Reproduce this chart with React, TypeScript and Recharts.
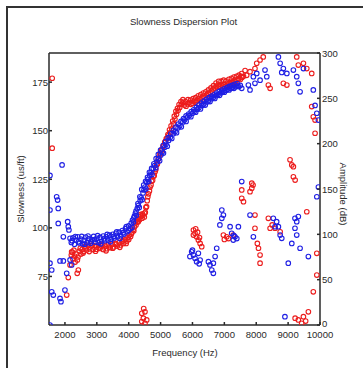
import { ReferenceLine, Scatter, ScatterChart, XAxis, YAxis } from "recharts";

// frequency (Hz), slowness (us/ft)
const blueCurve: [number, number][] = [
  [2200, 92.5], [2250, 94.8], [2300, 91.6], [2350, 93.6], [2400, 95.4], [2450, 92.2],
  [2500, 94.2], [2550, 91.8], [2600, 93.5], [2650, 95.3], [2700, 92.5], [2750, 94.4],
  [2800, 92.1], [2850, 93.9], [2900, 95.6], [2950, 92.7], [3000, 94.6], [3050, 92.4],
  [3100, 95.1], [3150, 93.1], [3200, 95.8], [3250, 93.4], [3300, 95.4], [3350, 93.8],
  [3400, 96.3], [3450, 94.2], [3500, 96.7], [3550, 94.8], [3600, 97.2], [3650, 95.4],
  [3700, 97.8], [3750, 96], [3800, 98.6], [3850, 96.8], [3900, 99.6], [3950, 98],
  [4000, 101], [4050, 99.6], [4080, 102.5], [4120, 104], [4150, 103], [4180, 106],
  [4210, 107.5], [4240, 106.5], [4270, 110], [4300, 111.5], [4330, 110.5], [4360, 114],
  [4390, 115.5], [4420, 114.5], [4450, 118], [4480, 119.5], [4510, 121], [4540, 120],
  [4570, 123.5], [4600, 125], [4630, 124], [4660, 127], [4700, 128.5], [4730, 127.5],
  [4770, 130.5], [4810, 132], [4850, 131], [4890, 134], [4930, 135.5], [4970, 134.5],
  [5010, 137.5], [5050, 139], [5090, 138.5], [5130, 141.5], [5170, 143], [5210, 142],
  [5250, 145], [5300, 146.5], [5350, 146], [5400, 148.5], [5450, 149.5], [5500, 149],
  [5550, 151.5], [5600, 152.5], [5650, 152], [5700, 154.5], [5750, 155.5], [5800, 154.8],
  [5850, 157], [5900, 157.8], [5950, 157.2], [6000, 159], [6050, 159.8], [6100, 159.5],
  [6150, 161], [6200, 161.8], [6250, 161.2], [6300, 163], [6350, 163.6], [6400, 163.2],
  [6450, 164.8], [6500, 165.4], [6550, 165], [6600, 166.5], [6650, 167], [6700, 166.6],
  [6750, 168], [6800, 168.6], [6850, 168.2], [6900, 169.5], [6950, 170], [7000, 169.8],
  [7050, 170.8], [7100, 171.3], [7150, 171], [7200, 171.8], [7250, 172.2], [7300, 171.8],
  [7350, 172.6], [7400, 173], [7450, 172.7], [7500, 173.3],
];

// second row of the thick blue band
const blueBand: [number, number][] = [
  [2225, 93.4], [2325, 95.5], [2425, 92.8], [2525, 95.6], [2625, 91.6], [2725, 95.8],
  [2825, 93], [2925, 94], [3025, 96], [3125, 91.8], [3225, 94.3], [3325, 96.6],
  [3425, 92.8], [3525, 95.5], [3625, 98], [3725, 94.5], [3825, 97.5], [3925, 100.6],
  [4000, 98.8], [4100, 100.2], [4160, 105.2], [4230, 108.6], [4290, 112.5], [4350, 116],
  [4410, 119.8], [4470, 122], [4530, 124], [4590, 126], [4650, 128.6], [4720, 130.6],
  [4790, 133], [4860, 135.6], [4930, 137.8], [5000, 140], [5080, 142.4], [5160, 144.4],
  [5240, 146.4], [5320, 148.4], [5400, 150.2], [5480, 151.8], [5560, 153.4], [5640, 154.8],
  [5720, 156.2], [5800, 157.6], [5880, 158.6], [5960, 159.8], [6040, 160.8], [6120, 162],
  [6200, 163.2], [6280, 164.2], [6360, 165.2], [6440, 166.2], [6520, 167], [6600, 167.8],
  [6680, 168.5], [6760, 169.4], [6840, 170.2], [6920, 170.9], [7000, 171.6], [7080, 172.2],
  [7160, 172.8], [7240, 173.3], [7320, 173.9], [7400, 174.3],
];

const redCurve: [number, number][] = [
  [2200, 86], [2250, 84], [2280, 88.5], [2320, 82.4], [2360, 86.5], [2410, 85],
  [2450, 88], [2500, 86.5], [2540, 89], [2590, 87.8], [2630, 90.5], [2680, 88.6],
  [2730, 91], [2780, 89.2], [2830, 90.6], [2880, 88.8], [2940, 90.8], [2990, 89],
  [3050, 91], [3100, 89.4], [3150, 90.5], [3200, 88.9], [3260, 90.6], [3310, 89.3],
  [3360, 91.2], [3420, 89.8], [3480, 91.5], [3530, 90.2], [3580, 92], [3640, 90.6],
  [3700, 92.4], [3750, 91.2], [3790, 93], [3840, 92], [3890, 94], [3940, 93.2],
  [3980, 95], [4020, 96.3], [4060, 95.5], [4100, 97.5], [4140, 99], [4180, 100.5],
  [4210, 102.5], [4240, 104], [4270, 103], [4300, 105], [4340, 104.2], [4380, 106],
  [4420, 105], [4450, 106.5], [4490, 105.6], [4520, 108], [4560, 111], [4600, 116],
  [4650, 119], [4700, 122], [4750, 124.5], [4800, 127], [4850, 130], [4900, 133],
  [4950, 136], [5000, 138.5], [5050, 140.5], [5100, 142.5], [5150, 144.5], [5200, 146],
  [5250, 147.5], [5300, 149], [5350, 151], [5400, 153.5], [5450, 156], [5500, 158.5],
  [5550, 160.5], [5600, 162], [5650, 163.5], [5700, 164.5], [5750, 163.2], [5800, 162.6],
  [5850, 163.8], [5900, 164.5], [5950, 163.6], [6000, 164.2], [6050, 165.2], [6100, 164.6],
  [6150, 165.5], [6200, 166.4], [6250, 165.8], [6300, 167], [6350, 167.8], [6400, 167.2],
  [6450, 168.5], [6500, 169.2], [6550, 169.5], [6600, 170.5], [6650, 171.5], [6700, 172],
  [6750, 172.8], [6800, 173.5], [6850, 172.8], [6900, 173.6], [6950, 172.9], [7000, 173.8],
  [7050, 173], [7100, 174], [7150, 174.6], [7200, 174], [7250, 175], [7300, 175.6],
  [7350, 175.2], [7400, 176.2], [7450, 176.8], [7500, 176.4], [7550, 177.4], [7600, 178],
];

// second row of the thick red band
const redBand: [number, number][] = [
  [2230, 87.5], [2300, 85.5], [2390, 83.5], [2480, 89.5], [2570, 87], [2660, 89.8],
  [2760, 87.8], [2860, 91.2], [2960, 88], [3070, 89.8], [3180, 91.4], [3290, 88.2],
  [3390, 90.2], [3500, 89.5], [3610, 91.6], [3720, 90], [3820, 93.4], [3920, 92],
  [4000, 94], [4080, 96.8], [4160, 98.5], [4230, 101.5], [4300, 103.2], [4360, 106.8],
  [4430, 107.2], [4500, 107.5], [4540, 110.5], [4580, 114], [4620, 117.5], [4670, 121],
  [4720, 124], [4780, 126.5], [4830, 129], [4880, 132.5], [4930, 135.5], [4980, 138],
  [5030, 140], [5080, 142], [5130, 144], [5180, 146], [5230, 148], [5280, 150.5],
  [5330, 152.5], [5380, 155], [5430, 157.5], [5480, 160], [5530, 161.5], [5580, 163.5],
  [5640, 165], [5700, 166], [5780, 165], [5860, 166], [5940, 165.8], [6020, 166.5],
  [6100, 167], [6180, 168], [6260, 168.6], [6340, 169.4], [6420, 170], [6500, 171],
  [6580, 172], [6660, 173.2], [6740, 174.5], [6820, 175.4], [6900, 175.5], [6980, 176],
  [7060, 175.6], [7140, 176.5], [7220, 177], [7300, 177.6], [7380, 178], [7460, 178.6],
  [7540, 179.4],
];

const blueScatter: [number, number][] = [
  [1530, 109.2], [1740, 116], [1770, 114.3], [1790, 110], [1790, 102.3], [1950, 95.4],
  [2085, 103.2], [2105, 100.6], [2125, 98.9], [2160, 94.6], [1530, 81.8], [1585, 78.3],
  [1845, 83], [1950, 83], [2055, 76.6], [2160, 83.5], [2210, 80.9], [1585, 67.1],
  [1635, 65.4], [1845, 63.7], [1875, 62], [2000, 68], [1530, 50], [1910, 132.4], [1530, 127],
  [5975, 87.7], [6030, 86], [6080, 84.3], [6185, 86.9], [6240, 83.4], [6130, 82.6],
  [5920, 85.2], [6000, 88.5], [6210, 81.5],
  [6760, 89.5], [6710, 85.2], [6655, 81.8], [6550, 80.9], [6605, 78.3], [6655, 76.6], [6500, 82.6],
  [6920, 109.2], [6970, 106.6], [6920, 104.9], [6860, 101.5],
  [7180, 100.6], [7230, 97.2], [7335, 95.4], [7280, 93.7], [7440, 100.6], [7390, 94.5], [7300, 96],
  [7805, 106.6], [7910, 95.4],
  [8535, 104.9], [8640, 103.2], [8695, 100.6], [8750, 96.3], [8800, 94.6], [8590, 100.6],
  [9215, 104.9], [9270, 103.2], [9215, 99.8], [9270, 96.3], [9320, 105.8], [9115, 92],
  [9005, 81.8], [9375, 89.5], [9635, 85.2], [9900, 116], [9950, 121], [8900, 54.3], [7545, 123.8],
  [7545, 171.8], [7753, 173.5], [7805, 171], [7910, 177.8], [8015, 179.5], [8120, 176],
  [8275, 181.2], [8330, 177.8], [7960, 174.4], [8695, 188], [8750, 184.7], [8850, 182],
  [8960, 179.5], [8800, 180], [9165, 181.2], [9270, 177.8], [9320, 174.4], [9375, 170],
  [9480, 182], [9790, 171], [9845, 163], [9900, 159], [9950, 155.5],
];

const redScatter: [number, number][] = [
  [1600, 177], [1600, 141], [2210, 87.7], [2160, 80.9], [2105, 74.4], [2055, 65.4],
  [2420, 78.3], [2385, 76.6],
  [4410, 56], [4510, 56.8], [4460, 53.5], [4565, 52.6], [4510, 50.9], [4410, 51.8], [4470, 58.5],
  [6030, 98.9], [6080, 97.2], [6130, 95.4], [6185, 93.7], [6240, 92], [6290, 90.3],
  [6030, 96.3], [6100, 99.5], [6160, 97.8], [6220, 95],
  [6970, 96.3], [7075, 95.4], [7280, 96.3], [7130, 94.5], [7000, 94],
  [7960, 106.6], [7960, 99.8], [8035, 92], [8070, 89.5], [8120, 86], [8120, 81.8],
  [8380, 104.9], [8435, 99.8], [8590, 99.8], [8750, 98], [8500, 101.5],
  [9585, 108.3], [9900, 86.9], [9900, 75.7], [9790, 67.1], [9635, 56.8], [9480, 54.3],
  [9320, 52.6], [9220, 53.5], [9425, 50.9], [9550, 52],
  [7545, 119.5], [7545, 115.2], [7600, 113.5], [7805, 118.6], [7860, 120.4], [7900, 122], [7860, 123],
  [9060, 135], [9115, 132.4], [9165, 131.5], [9165, 126.3], [9220, 124.6],
  [7280, 174.4], [7545, 177.8], [7805, 180.4], [8015, 184.7], [8120, 186.4], [7960, 182],
  [8380, 173.5], [8435, 171.8], [8220, 188], [8850, 174.4], [8960, 173.5], [9270, 188],
  [9320, 183.8], [9480, 184.7], [9585, 182], [9740, 179.5], [9740, 162.4], [9790, 157.2],
  [9845, 155.5], [9845, 148.7], [7700, 178.5], [7650, 181],
];

const freqTicks = [2000, 3000, 4000, 5000, 6000, 7000, 8000, 9000, 10000];
const slowTicks = [75, 100, 125, 150, 175];
const ampTicks = [0, 50, 100, 150, 200, 250, 300];

const RED = "#ec1d1d";
const BLUE = "#1f1fe4";
const INK = "#2a2a2a";
const FONT = "'Liberation Sans', Arial, sans-serif";

const toPts = (arr: [number, number][]) => arr.map(([f, s]) => ({ f, s }));

const ring = (color: string) => (p: any) =>
  <circle cx={p.cx} cy={p.cy} r={2.3} fill="none" stroke={color} strokeWidth={1.1} />;

const BottomTick = ({ x, y, payload }: any) => (
  <g>
    <line x1={x} y1={y} x2={x} y2={y - 3} stroke={INK} strokeWidth={1.5} />
    <text x={x} y={y + 13} textAnchor="middle" fontSize={9.5} fill={INK} fontFamily={FONT}>
      {payload.value}
    </text>
  </g>
);

const LeftTick = ({ x, y, payload }: any) => (
  <g>
    <line x1={x} y1={y} x2={x + 3} y2={y} stroke={INK} strokeWidth={1.5} />
    <text x={x - 1} y={y + 3.5} textAnchor="end" fontSize={9.5} fill={INK} fontFamily={FONT}>
      {payload.value}
    </text>
  </g>
);

const RightTick = ({ x, y, payload }: any) => (
  <g>
    <line x1={x} y1={y} x2={x - 3} y2={y} stroke={INK} strokeWidth={1.5} />
    <text
      x={x + 2}
      y={payload.value === 0 ? y + 1.5 : y + 3.5}
      textAnchor="start"
      fontSize={9.5}
      fill={INK}
      fontFamily={FONT}
    >
      {payload.value}
    </text>
  </g>
);

const txt: React.CSSProperties = {
  position: "absolute",
  fontFamily: FONT,
  fontSize: 9.5,
  color: INK,
  whiteSpace: "nowrap",
};

export default function App() {
  return (
    <div style={{ position: "absolute", left: 0, top: 0, width: 363, height: 368, background: "#fff" }}>
      <div
        style={{
          position: "absolute", left: 6, top: 6, width: 400, height: 400,
          borderTop: "2px solid #333", borderLeft: "2px solid #333",
        }}
      />
      <ScatterChart width={363} height={368} margin={{ top: 53, right: 0, bottom: 0, left: 0 }}>
        <XAxis
          type="number"
          dataKey="f"
          domain={[1500, 10000]}
          ticks={freqTicks}
          allowDataOverflow
          height={43}
          tickSize={0}
          tickMargin={0}
          tick={<BottomTick />}
          axisLine={{ stroke: INK, strokeWidth: 1.5 }}
          interval={0}
        />
        <YAxis
          yAxisId="left"
          type="number"
          dataKey="s"
          domain={[50, 190]}
          ticks={slowTicks}
          allowDataOverflow
          width={49}
          tickSize={0}
          tickMargin={0}
          tick={<LeftTick />}
          axisLine={{ stroke: INK, strokeWidth: 1.5 }}
          interval={0}
        />
        <YAxis
          yAxisId="right"
          orientation="right"
          type="number"
          domain={[0, 300]}
          ticks={ampTicks}
          allowDataOverflow
          width={43}
          tickSize={0}
          tickMargin={0}
          tick={<RightTick />}
          axisLine={{ stroke: INK, strokeWidth: 1.5 }}
          interval={0}
        />
        <ReferenceLine yAxisId="left" y={190} stroke={INK} strokeWidth={1.5} ifOverflow="visible" />
        <Scatter yAxisId="left" data={toPts(redScatter)} shape={ring(RED)} isAnimationActive={false} />
        <Scatter yAxisId="left" data={toPts(redBand)} shape={ring(RED)} isAnimationActive={false} />
        <Scatter yAxisId="left" data={toPts(redCurve)} shape={ring(RED)} isAnimationActive={false} />
        <Scatter yAxisId="left" data={toPts(blueScatter)} shape={ring(BLUE)} isAnimationActive={false} />
        <Scatter yAxisId="left" data={toPts(blueBand)} shape={ring(BLUE)} isAnimationActive={false} />
        <Scatter yAxisId="left" data={toPts(blueCurve)} shape={ring(BLUE)} isAnimationActive={false} />
      </ScatterChart>
      <div style={{ ...txt, left: 0, width: 363, top: 16, textAlign: "center", paddingLeft: 4, boxSizing: "border-box" }}>
        Slowness Dispersion Plot
      </div>
      <div style={{ ...txt, left: 60, width: 250, top: 347, textAlign: "center" }}>Frequency (Hz)</div>
      <div
        style={{
          ...txt, left: 20, top: 189, transform: "translate(-50%, -50%) rotate(-90deg)",
        }}
      >
        Slowness (us/ft)
      </div>
      <div
        style={{
          ...txt, left: 343, top: 194, transform: "translate(-50%, -50%) rotate(90deg)",
        }}
      >
        Amplitude (dB)
      </div>
    </div>
  );
}
